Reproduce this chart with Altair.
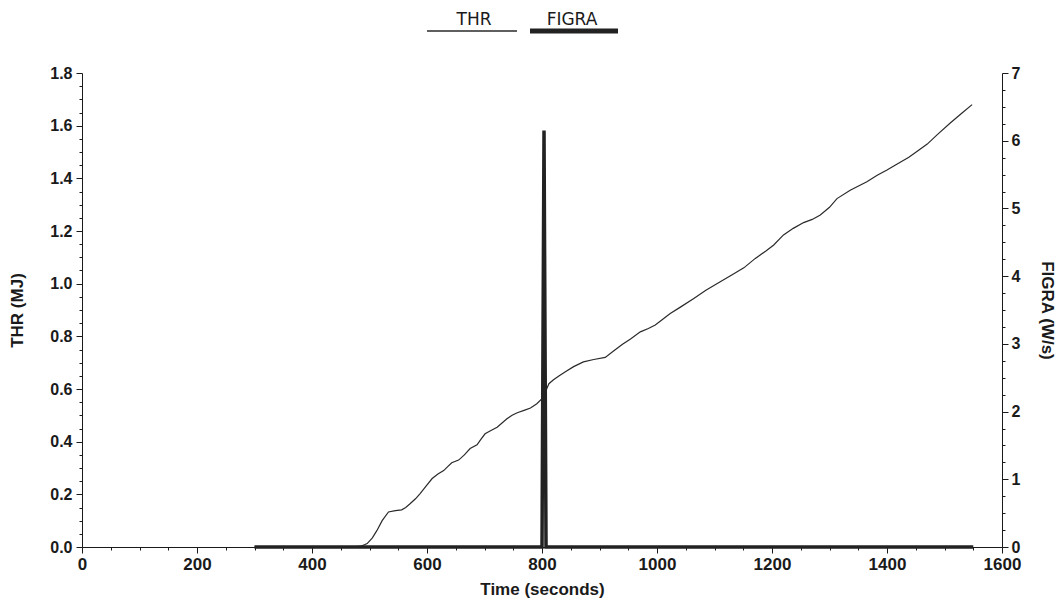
import altair as alt
import pandas as pd

# ---- data ----
thr_time = [300, 400, 470, 485, 496, 505, 513, 522, 533, 545, 556, 563, 571, 580, 588, 598,
            609, 619, 629, 636, 643, 655, 665, 675, 687, 694, 701, 712, 722, 730, 739, 748,
            757, 770, 780, 791, 800, 806, 812, 820, 830, 840, 855, 872, 890, 910, 925, 940,
            954, 971, 985, 997, 1010, 1023, 1040, 1064, 1085, 1110, 1130, 1151, 1171, 1190,
            1203, 1220, 1237, 1255, 1270, 1284, 1300, 1313, 1336, 1365, 1383, 1400, 1414,
            1438, 1455, 1470, 1487, 1510, 1530, 1548]
thr_value = [0, 0, 0, 0.003, 0.013, 0.035, 0.063, 0.10, 0.133, 0.138, 0.141, 0.15, 0.165,
             0.183, 0.203, 0.23, 0.26, 0.277, 0.29, 0.305, 0.32, 0.33, 0.35, 0.374, 0.388,
             0.41, 0.43, 0.443, 0.455, 0.47, 0.487, 0.5, 0.51, 0.52, 0.528, 0.544, 0.563,
             0.59, 0.62, 0.635, 0.65, 0.665, 0.685, 0.703, 0.712, 0.72, 0.745, 0.77, 0.79,
             0.817, 0.83, 0.843, 0.865, 0.887, 0.91, 0.944, 0.975, 1.007, 1.033, 1.06, 1.096,
             1.125, 1.147, 1.185, 1.21, 1.232, 1.244, 1.261, 1.29, 1.323, 1.355, 1.387, 1.412,
             1.432, 1.45, 1.48, 1.507, 1.53, 1.565, 1.61, 1.647, 1.68]
figra_time = [300, 800, 803.5, 807, 1550]
figra_value = [0, 0, 6.15, 0, 0]

legend_labels = ["THR", "FIGRA"]

x_ticks = list(range(0, 1601, 50))
thr_ticks = [round(i * 0.05, 2) for i in range(37)]
figra_ticks = [i * 0.25 for i in range(29)]

assert len(thr_time) == len(thr_value)

thr_df = pd.DataFrame({"time": thr_time, "THR": thr_value})
figra_df = pd.DataFrame({"time": figra_time, "FIGRA": figra_value})

FONT = "Liberation Sans"
INK = "#1a1a1a"

x_axis = alt.Axis(
    values=x_ticks,
    title="Time (seconds)",
    labelExpr="datum.value % 200 === 0 ? format(datum.value, 'd') : ''",
    tickSize={"condition": {"test": "datum.value % 200 === 0", "value": 6}, "value": 3},
    labelOverlap=False, labelFlush=False, grid=False,
    labelFontSize=17, labelPadding=3,
    titleY=42, titleBaseline="middle",
)
x_enc = alt.X("time:Q", scale=alt.Scale(domain=[0, 1600], nice=False, zero=False), axis=x_axis)

thr_line = alt.Chart(thr_df).mark_line(color="#2a2a2a", strokeWidth=1.2).encode(
    x=x_enc,
    y=alt.Y("THR:Q", scale=alt.Scale(domain=[0, 1.8], nice=False),
            axis=alt.Axis(
                values=thr_ticks,
                title="THR (MJ)",
                labelExpr="abs(datum.value * 5 - round(datum.value * 5)) < 0.001 ? format(datum.value, '.1f') : ''",
                tickSize={"condition": {"test": "abs(datum.value * 5 - round(datum.value * 5)) < 0.001", "value": 6}, "value": 3},
                labelOverlap=False, labelFlush=False, grid=False,
                labelFontSize=16, labelPadding=4,
                titleAngle=270, titleX=-65, titleBaseline="middle",
            )),
)

figra_line = alt.Chart(figra_df).mark_line(color="#222222", strokeWidth=3.5).encode(
    x=x_enc,
    y=alt.Y("FIGRA:Q", scale=alt.Scale(domain=[0, 7], nice=False),
            axis=alt.Axis(
                orient="right",
                values=figra_ticks,
                title="FIGRA (W/s)",
                labelExpr="datum.value % 1 === 0 ? format(datum.value, 'd') : ''",
                tickSize={"condition": {"test": "datum.value % 1 === 0", "value": 6}, "value": 3},
                labelOverlap=False, labelFlush=False, grid=False,
                labelFontSize=16, labelPadding=3,
                titleAngle=90, titleX=44, titleBaseline="middle",
            )),
)

leg_font = "DejaVu Sans"
thr_leg_text = alt.Chart(pd.DataFrame({"label": [legend_labels[0]]})).mark_text(
    font=leg_font, fontSize=17, color=INK, baseline="middle", align="center"
).encode(text="label:N", x=alt.value(392), y=alt.value(-53))
figra_leg_text = alt.Chart(pd.DataFrame({"label": [legend_labels[1]]})).mark_text(
    font=leg_font, fontSize=17, color=INK, baseline="middle", align="center"
).encode(text="label:N", x=alt.value(490), y=alt.value(-53))
thr_leg_line = alt.Chart(pd.DataFrame({"label": [legend_labels[0]]})).mark_rule(
    color="#2a2a2a", strokeWidth=1.5
).encode(x=alt.value(345), x2=alt.value(435), y=alt.value(-42))
figra_leg_line = alt.Chart(pd.DataFrame({"label": [legend_labels[1]]})).mark_rule(
    color="#222222", strokeWidth=5
).encode(x=alt.value(448), x2=alt.value(536), y=alt.value(-42))

chart = alt.layer(
    thr_line, figra_line, thr_leg_text, figra_leg_text, thr_leg_line, figra_leg_line
).resolve_scale(y="independent").properties(
    width=920, height=474,
    autosize=alt.AutoSizeParams(type="none"),
    padding={"left": 74, "top": 65, "right": 54, "bottom": 54},
    background="white",
).configure_view(stroke=None).configure_axis(
    labelFont=FONT, labelFontWeight="bold", labelColor=INK,
    titleFont=FONT, titleFontWeight="bold", titleFontSize=17, titleColor=INK,
    domainColor=INK, tickColor=INK, domainWidth=1, tickWidth=1,
)

chart.save("out.html", embed_options={"renderer": "svg", "actions": False})
